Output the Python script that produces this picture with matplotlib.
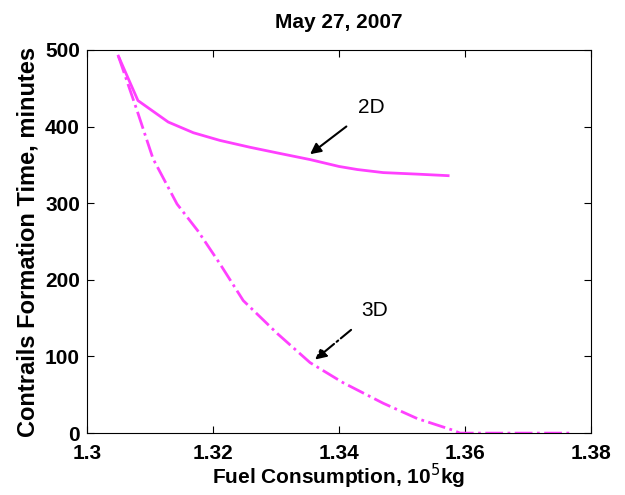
import matplotlib
matplotlib.use('Agg')
import matplotlib.pyplot as plt

plt.rcParams['font.family'] = ['Liberation Sans', 'DejaVu Sans']

fuel_2d = [1.3050, 1.3081, 1.3129, 1.3169, 1.3211, 1.3259, 1.3306, 1.3354,
           1.3400, 1.3429, 1.3470, 1.3524, 1.3573]
time_2d = [492, 434, 406, 392, 382, 373, 365, 357, 348, 344, 340, 338, 336]

fuel_3d = [1.3050, 1.3080, 1.3105, 1.3143, 1.3176, 1.3211, 1.3248, 1.3302,
           1.3354, 1.3406, 1.3470, 1.3524, 1.3580, 1.3592, 1.3680, 1.3767]
time_3d = [492, 420, 358, 299, 264, 221, 173, 130,
           92, 66, 39, 19, 4, 0, 0, 0]

magenta = '#ff40ff'

fig = plt.figure(figsize=(6.25, 4.95), dpi=100)
ax = fig.add_axes([0.139, 0.125, 0.807, 0.774])

ax.plot(fuel_2d, time_2d, color=magenta, lw=2.0, ls='-')
ax.plot(fuel_3d, time_3d, color=magenta, lw=2.0, ls='-.')

ax.annotate('2D', xy=(1.3354, 364), xytext=(1.3430, 425),
            fontsize=15, ha='left', va='center',
            arrowprops=dict(arrowstyle='-|>', color='black', lw=1.5,
                            mutation_scale=16, shrinkA=8, shrinkB=0))
ax.annotate('3D', xy=(1.3362, 96), xytext=(1.3435, 160),
            fontsize=15, ha='left', va='center',
            arrowprops=dict(arrowstyle='-|>', color='black', lw=1.5, ls='-.',
                            mutation_scale=16, shrinkA=8, shrinkB=0))

ax.set_xlim(1.30, 1.38)
ax.set_ylim(0, 500)
ax.set_xticks([1.30, 1.32, 1.34, 1.36, 1.38])
ax.set_xticklabels(['1.3', '1.32', '1.34', '1.36', '1.38'])
ax.set_yticks([0, 100, 200, 300, 400, 500])

ax.tick_params(direction='in', top=True, right=True, length=5, width=0.8,
               labelsize=15)
ax.tick_params(axis='x', pad=8)
ax.tick_params(axis='y', pad=5)
for lbl in ax.get_xticklabels() + ax.get_yticklabels():
    lbl.set_fontweight('bold')

ax.set_title('May 27, 2007', fontsize=15, fontweight='bold', pad=16)
ax.set_xlabel('Fuel Consumption, 10$^5$kg', fontsize=15, fontweight='bold',
              labelpad=-1)
ax.set_ylabel('Contrails Formation Time, minutes', fontsize=17,
              fontweight='bold', labelpad=4)

fig.savefig('out.png', dpi=100)
